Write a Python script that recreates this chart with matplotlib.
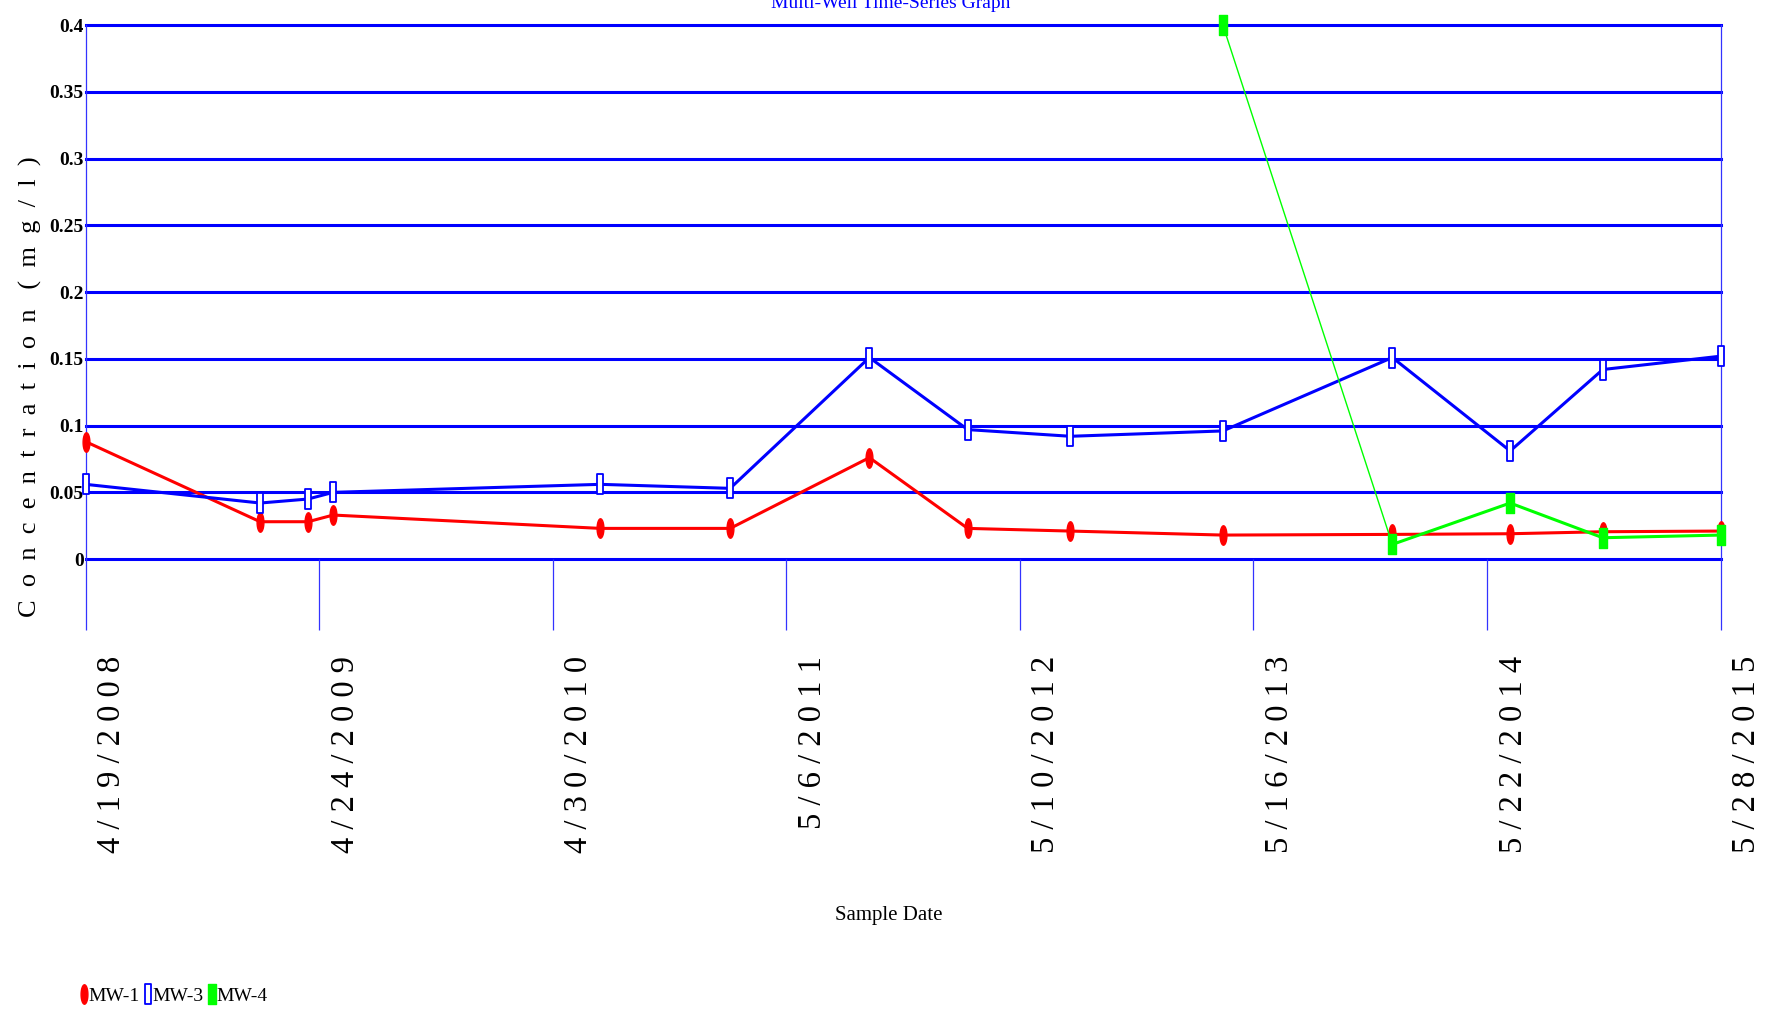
import matplotlib
matplotlib.use('Agg')
import matplotlib.pyplot as plt
import matplotlib.dates as mdates
import matplotlib.transforms as mtransforms
from matplotlib.path import Path
from matplotlib.lines import Line2D
import numpy as np
import pandas as pd

plt.rcParams['font.family'] = ['Liberation Serif', 'DejaVu Serif']

# sample dates and concentrations (mg/l)
mw1_dates = ['2008-04-19', '2009-01-21', '2009-04-07', '2009-05-17', '2010-07-15',
             '2011-02-06', '2011-09-15', '2012-02-18', '2012-07-30', '2013-03-29',
             '2013-12-23', '2014-06-28', '2014-11-22', '2015-05-28']
mw1_vals = [0.088, 0.028, 0.028, 0.033, 0.023, 0.023, 0.076, 0.023, 0.021, 0.018,
            0.0185, 0.019, 0.0205, 0.021]

mw3_dates = mw1_dates
mw3_vals = [0.056, 0.042, 0.045, 0.050, 0.056, 0.053, 0.151, 0.097, 0.092, 0.096,
            0.151, 0.081, 0.142, 0.152]

mw4_dates = ['2013-03-29', '2013-12-23', '2014-06-28', '2014-11-22', '2015-05-28']
mw4_vals = [0.40, 0.011, 0.042, 0.016, 0.018]

x_start, x_end = '2008-04-19', '2015-05-28'
tick_labels = ['4/19/2008', '4/24/2009', '4/30/2010', '5/6/2011',
               '5/10/2012', '5/16/2013', '5/22/2014', '5/28/2015']
y_ticks = [0, 0.05, 0.1, 0.15, 0.2, 0.25, 0.3, 0.35, 0.4]
y_labels = ['0', '0.05', '0.1', '0.15', '0.2', '0.25', '0.3', '0.35', '0.4']


def to_num(d):
    return mdates.date2num(pd.to_datetime(d).to_pydatetime())


def spaced(s, gap=' '):
    return gap.join(s)


# tall narrow marker shapes
t = np.linspace(0, 2 * np.pi, 40)
ellipse = Path(np.column_stack([0.35 * np.cos(t), np.sin(t)]), closed=True)
rect = Path([(-0.35, -1), (0.35, -1), (0.35, 1), (-0.35, 1), (-0.35, -1)], closed=True)

W, H = 1789, 1021
fig = plt.figure(figsize=(W / 100, H / 100), dpi=100)
left, right, top, bot = 85.6, 1720.6, 25.1, 559.1
ax = fig.add_axes([left / W, 1 - bot / H, (right - left) / W, (bot - top) / H])

blue = '#0000ff'
x1 = [to_num(d) for d in mw1_dates]
x3 = [to_num(d) for d in mw3_dates]
x4 = [to_num(d) for d in mw4_dates]

ax.plot(x1, mw1_vals, color='#ff0000', lw=2.2, marker=ellipse, ms=14,
        mfc='#ff0000', mec='#ff0000', zorder=4, clip_on=False)
ax.plot(x3, mw3_vals, color=blue, lw=2.2, marker=rect, ms=14, mfc='white',
        mec=blue, mew=1.3, zorder=5, clip_on=False)
ax.plot(x4[:2], mw4_vals[:2], color='#00ff00', lw=1.0, zorder=6, clip_on=False)
ax.plot(x4[1:], mw4_vals[1:], color='#00ff00', lw=2.2, zorder=6, clip_on=False)
ax.plot(x4, mw4_vals, ls='none', marker=rect, ms=15, mfc='#00ff00',
        mec='#00ff00', zorder=7, clip_on=False)

xmin, xmax = to_num(x_start), to_num(x_end)
ax.set_xlim(xmin, xmax)
ax.set_ylim(0, 0.4)

for y in y_ticks:
    ax.axhline(y, color=blue, lw=2.2, zorder=1, clip_on=False)

for s in ['top', 'bottom']:
    ax.spines[s].set_visible(False)
for s in ['left', 'right']:
    ax.spines[s].set_color('#3333ff')
    ax.spines[s].set_linewidth(0.9)

xt = np.linspace(xmin, xmax, len(tick_labels))
ax.set_xticks(xt)
ax.set_xticklabels([])
ax.tick_params(axis='x', direction='out', length=51, width=0.9, color='#3333ff')

ax.set_yticks(y_ticks)
ax.set_yticklabels(y_labels, fontsize=14, fontweight='bold')
ax.tick_params(axis='y', length=0, pad=1.5)

off = mtransforms.ScaledTranslation(11 / 100, -97 / 100, fig.dpi_scale_trans)
for xv, lab in zip(xt, tick_labels):
    ax.text(xv, 0, spaced(lab), rotation=90, ha='left', va='top', fontsize=23.5,
            transform=ax.get_xaxis_transform() + off)

fig.text(30 / W, 1 - 387 / H,
         spaced('Concentration', '  ') + '   ' + spaced('(mg/l)', '  '),
         rotation=90, ha='center', va='center', fontsize=19)
fig.text(889 / W, 1 - 915 / H, 'Sample Date', ha='center', va='center', fontsize=15)
fig.text(891 / W, 1 - 8 / H, 'Multi-Well Time-Series Graph', ha='center',
         va='baseline', fontsize=14, color=blue)

handles = [
    Line2D([], [], ls='none', marker=ellipse, ms=14, mfc='#ff0000', mec='#ff0000'),
    Line2D([], [], ls='none', marker=rect, ms=14, mfc='white', mec=blue, mew=1.3),
    Line2D([], [], ls='none', marker=rect, ms=15, mfc='#00ff00', mec='#00ff00'),
]
fig.legend(handles, ['MW-1', 'MW-3', 'MW-4'], loc='center left',
           bbox_to_anchor=(80 / W, 1 - 996 / H), ncol=3, frameon=False,
           fontsize=14, handlelength=0.4, handletextpad=0.05, columnspacing=0.2,
           borderpad=0, borderaxespad=0)

fig.savefig('out.png', dpi=100)
